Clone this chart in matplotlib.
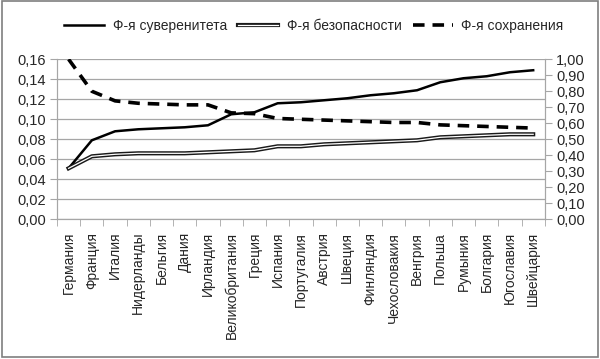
import numpy as np
import matplotlib.pyplot as plt
import matplotlib.patheffects as pe
from matplotlib.patches import Rectangle
from matplotlib.ticker import FixedLocator, FuncFormatter

plt.rcParams['font.family'] = ['Liberation Sans', 'DejaVu Sans']

countries = ['Германия', 'Франция', 'Италия', 'Нидерланды', 'Бельгия', 'Дания',
             'Ирландия', 'Великобритания', 'Греция', 'Испания', 'Португалия',
             'Австрия', 'Швеция', 'Финляндия', 'Чехословакия', 'Венгрия',
             'Польша', 'Румыния', 'Болгария', 'Югославия', 'Швейцария']

sovereignty = [0.051, 0.079, 0.088, 0.090, 0.091, 0.092, 0.094, 0.105, 0.107,
               0.116, 0.117, 0.119, 0.121, 0.124, 0.126, 0.129, 0.137, 0.141,
               0.143, 0.147, 0.149]
security = [0.051, 0.063, 0.065, 0.066, 0.066, 0.066, 0.067, 0.068, 0.069,
            0.073, 0.073, 0.075, 0.076, 0.077, 0.078, 0.079, 0.082, 0.083,
            0.084, 0.085, 0.085]
preservation = [1.00, 0.80, 0.74, 0.725, 0.72, 0.715, 0.715, 0.665, 0.66,
                0.63, 0.625, 0.62, 0.615, 0.61, 0.605, 0.605, 0.59, 0.585,
                0.58, 0.575, 0.57]

labels = ['Ф-я суверенитета', 'Ф-я безопасности', 'Ф-я сохранения']

grid_c = '#a6a6a6'
text_c = '#262626'

fig = plt.figure(figsize=(6.0, 3.59), dpi=100)
ax = fig.add_axes([0.095, 0.389, 0.813, 0.446])
ax2 = ax.twinx()

x = np.arange(len(countries))
l1, = ax.plot(x, sovereignty, color='black', lw=1.8, label=labels[0])
l2, = ax.plot(x, security, color='white', lw=0.9, label=labels[1],
              path_effects=[pe.Stroke(linewidth=3.0, foreground='#1a1a1a'), pe.Normal()])
l3, = ax2.plot(x, preservation, color='black', lw=2.6, dashes=(3.2, 2.2),
               label=labels[2])

ax.set_xlim(-0.5, len(countries) - 0.5)
ax.set_ylim(0, 0.16)
ax2.set_ylim(0, 1.0)
ax.set_yticks(np.arange(0, 0.161, 0.02))
ax2.set_yticks(np.arange(0, 1.001, 0.1))
ax.yaxis.set_major_formatter(FuncFormatter(lambda v, p: f'{v:.2f}'.replace('.', ',')))
ax2.yaxis.set_major_formatter(FuncFormatter(lambda v, p: f'{v:.2f}'.replace('.', ',')))
ax.grid(axis='y', color=grid_c, lw=0.9)
ax.set_axisbelow(True)

ax.set_xticks(x)
ax.set_xticklabels(countries, rotation=90, fontsize=10, color=text_c)
ax.tick_params(axis='x', which='major', length=0, pad=9)
ax.xaxis.set_minor_locator(FixedLocator(np.arange(-0.5, len(countries), 1)))
ax.tick_params(axis='x', which='minor', length=5, color=grid_c)
ax.tick_params(axis='y', length=5, color=grid_c, labelsize=10.5, labelcolor=text_c, pad=3)
ax2.tick_params(axis='y', length=5, color=grid_c, labelsize=10.5, labelcolor=text_c, pad=3)

for a in (ax, ax2):
    a.spines['top'].set_visible(False)
    for s in ('left', 'right', 'bottom'):
        a.spines[s].set_color(grid_c)

fig.legend(handles=[l1, l2, l3], loc='center', bbox_to_anchor=(0.523, 0.928),
           ncol=3, frameon=False, fontsize=10, handlelength=2.9,
           columnspacing=0.8, handletextpad=0.6, labelcolor=text_c)

fig.add_artist(Rectangle((0.004, 0.006), 0.992, 0.99, transform=fig.transFigure,
                         fill=False, edgecolor='#7f7f7f', lw=1.2))

fig.savefig('out.png', dpi=100)
